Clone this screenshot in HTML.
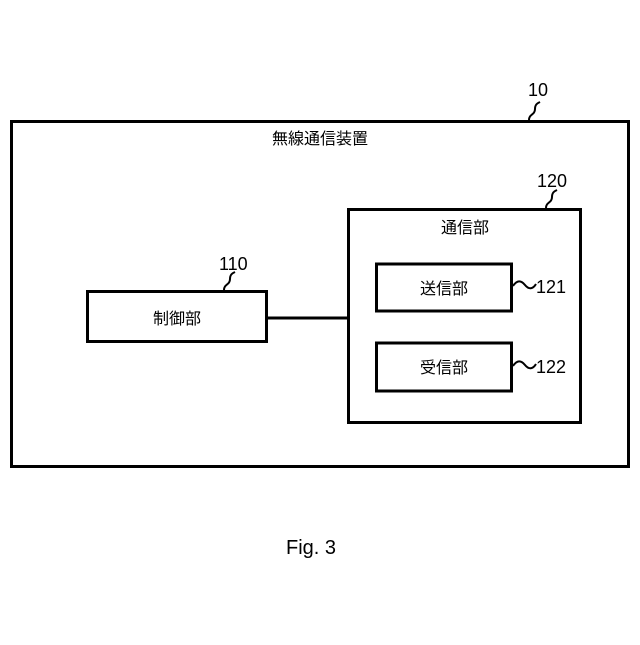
<!DOCTYPE html>
<html><head><meta charset="utf-8"><style>
body{margin:0;background:#fff;}
svg text{font-family:"Liberation Sans","Noto Sans CJK JP",sans-serif;fill:#000;}
</style></head><body>
<svg width="640" height="640" viewBox="0 0 640 640" xmlns="http://www.w3.org/2000/svg">
<g fill="none" stroke="#000" stroke-width="3">
<rect x="11.5" y="121.5" width="617" height="345"/>
<rect x="348.5" y="209.5" width="232" height="213"/>
<rect x="87.5" y="291.5" width="179" height="50"/>
<rect x="376.5" y="264" width="135" height="47"/>
<rect x="376.5" y="343" width="135" height="48"/>
<line x1="267" y1="318" x2="348" y2="318"/>
</g>
<g fill="none" stroke="#000" stroke-width="2">
<path d="M529,120 c0,-6 6,-5 6,-11 c0,-5 3,-6 5,-7"/>
<path d="M546,208 c0,-6 6,-5 6,-11 c0,-5 3,-6 5,-7"/>
<path d="M224,290 c0,-6 6,-5 6,-11 c0,-5 3,-6 5,-7"/>
<path d="M513,286 c4,-6 8,-6 12,-1 c4,5 8,4 11,-1"/>
<path d="M513,366 c4,-6 8,-6 12,-1 c4,5 8,4 11,-1"/>
</g>
<g font-size="18">
<text x="528" y="96">10</text>
<text x="537" y="187">120</text>
<text x="219" y="270">110</text>
<text x="536" y="293">121</text>
<text x="536" y="373">122</text>
</g>
<g font-size="16" text-anchor="middle">
<text x="320" y="144">無線通信装置</text>
<text x="465" y="233">通信部</text>
<text x="177" y="324">制御部</text>
<text x="444" y="294">送信部</text>
<text x="444" y="373">受信部</text>
</g>
<text x="311" y="554" font-size="20" text-anchor="middle">Fig. 3</text>
</svg>
</body></html>
